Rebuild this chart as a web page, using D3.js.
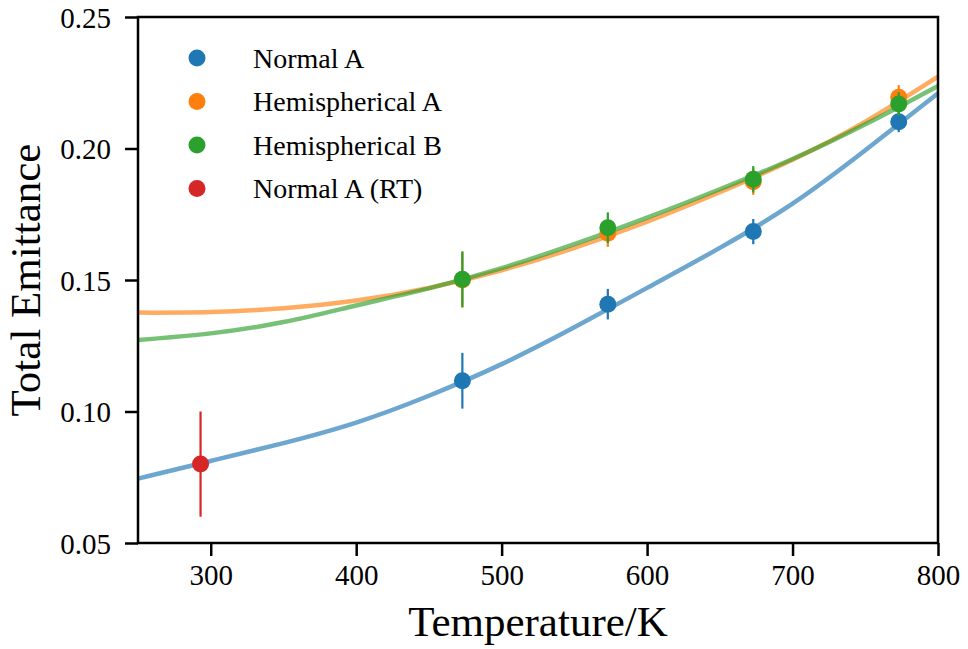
<!DOCTYPE html>
<html>
<head>
<meta charset="utf-8">
<script src="https://cdn.jsdelivr.net/npm/d3@7"></script>
<style>
  body { margin: 0; background: #fff; }
  text { font-family: "Liberation Serif", "DejaVu Serif", serif; fill: #000; }
</style>
</head>
<body>
<svg width="968" height="649"></svg>
<script>
// measured points
var temps = [473, 573, 673, 773];
var normalA = [0.1117, 0.1408, 0.1684, 0.2102];
var normalAErr = [0.0106, 0.0058, 0.0048, 0.0040];
var hemiA = [0.1500, 0.1678, 0.1874, 0.2195];
var hemiAErr = [0.0105, 0.0052, 0.0050, 0.0046];
var hemiB = [0.1503, 0.1699, 0.1883, 0.2169];
var hemiBErr = [0.0106, 0.0058, 0.0050, 0.0045];
var rtTemps = [293];
var normalART = [0.080];
var normalARTErr = [0.020];

// fit curves
var fitTemps = [250, 300, 350, 400, 450, 500, 550, 600, 650, 700, 750, 800];
var fitNormalA = [0.0745, 0.0812, 0.0880, 0.0958, 0.1060, 0.1180, 0.1320, 0.1470, 0.1622, 0.1790, 0.1993, 0.2210];
var fitHemiA = [0.1376, 0.1378, 0.1393, 0.1422, 0.1470, 0.1537, 0.1622, 0.1722, 0.1834, 0.1957, 0.2102, 0.2273];
var fitHemiB = [0.1272, 0.1297, 0.1340, 0.1403, 0.1468, 0.1545, 0.1636, 0.1737, 0.1845, 0.1960, 0.2092, 0.2238];

var xTicks = [300, 400, 500, 600, 700, 800];
var yTicks = [0.05, 0.10, 0.15, 0.20, 0.25];
var labels = ["Normal A", "Hemispherical A", "Hemispherical B", "Normal A (RT)"];
var colors = ["#1f77b4", "#ff7f0e", "#2ca02c", "#d62728"];

var svg = d3.select("svg"),
    margin = {top: 17, right: 30, bottom: 106, left: 138},
    width = +svg.attr("width") - margin.left - margin.right,
    height = +svg.attr("height") - margin.top - margin.bottom;

var g = svg.append("g").attr("transform", "translate(" + margin.left + "," + margin.top + ")");

var x = d3.scaleLinear().domain([250, 800]).range([0, width]),
    y = d3.scaleLinear().domain([0.05, 0.25]).range([height, 0]);

// fit lines
var line = d3.line()
    .x(function(d) { return x(d[0]); })
    .y(function(d) { return y(d[1]); })
    .curve(d3.curveNatural);

var fits = [fitNormalA, fitHemiA, fitHemiB];
fits.forEach(function(f, i) {
    g.append("path")
        .datum(d3.zip(fitTemps, f))
        .attr("d", line)
        .attr("fill", "none")
        .attr("stroke", colors[i])
        .attr("stroke-opacity", 0.65)
        .attr("stroke-width", 4.5);
});

// error bars + markers
var series = [
    {t: temps, v: normalA, e: normalAErr},
    {t: temps, v: hemiA, e: hemiAErr},
    {t: temps, v: hemiB, e: hemiBErr},
    {t: rtTemps, v: normalART, e: normalARTErr}
];
series.forEach(function(s, i) {
    var pts = d3.zip(s.t, s.v, s.e);
    var sg = g.append("g");
    sg.selectAll("circle")
        .data(pts)
        .enter().append("circle")
        .attr("cx", function(d) { return x(d[0]); })
        .attr("cy", function(d) { return y(d[1]); })
        .attr("r", 8.5)
        .attr("fill", colors[i]);
    sg.selectAll("line")
        .data(pts)
        .enter().append("line")
        .attr("x1", function(d) { return x(d[0]); })
        .attr("x2", function(d) { return x(d[0]); })
        .attr("y1", function(d) { return y(d[1] - d[2]); })
        .attr("y2", function(d) { return y(d[1] + d[2]); })
        .attr("stroke", colors[i])
        .attr("stroke-width", 2.2);
});

// axes
var xAxis = g.append("g")
    .attr("transform", "translate(0," + height + ")")
    .call(d3.axisBottom(x).tickValues(xTicks).tickSize(13).tickPadding(8).tickFormat(d3.format("d")));
var yAxis = g.append("g")
    .call(d3.axisLeft(y).tickValues(yTicks).tickSize(13).tickPadding(14).tickFormat(d3.format(".2f")));

[xAxis, yAxis].forEach(function(a) {
    a.select(".domain").remove();
    a.selectAll(".tick line").attr("stroke", "#000").attr("stroke-width", 2.5);
    a.selectAll(".tick text")
        .attr("font-family", "Liberation Serif, serif")
        .attr("font-size", 29)
        .attr("fill", "#000");
});
yAxis.selectAll(".tick text").attr("dy", "0.36em");

// frame
g.append("rect")
    .attr("width", width)
    .attr("height", height)
    .attr("fill", "none")
    .attr("stroke", "#000")
    .attr("stroke-width", 2.5);

// axis labels
svg.append("text")
    .attr("x", margin.left + width / 2)
    .attr("y", 636)
    .attr("text-anchor", "middle")
    .attr("font-size", 43)
    .text("Temperature/K");

svg.append("text")
    .attr("transform", "translate(40," + (margin.top + height / 2) + ") rotate(-90)")
    .attr("text-anchor", "middle")
    .attr("font-size", 43)
    .text("Total Emittance");

// legend
var legend = svg.append("g").attr("transform", "translate(197,58)");
labels.forEach(function(l, i) {
    legend.append("circle")
        .attr("cx", 0)
        .attr("cy", i * 43.5)
        .attr("r", 8.5)
        .attr("fill", colors[i]);
    legend.append("text")
        .attr("x", 56)
        .attr("y", i * 43.5)
        .attr("dy", "0.35em")
        .attr("font-size", 28)
        .text(l);
});
</script>
</body>
</html>
